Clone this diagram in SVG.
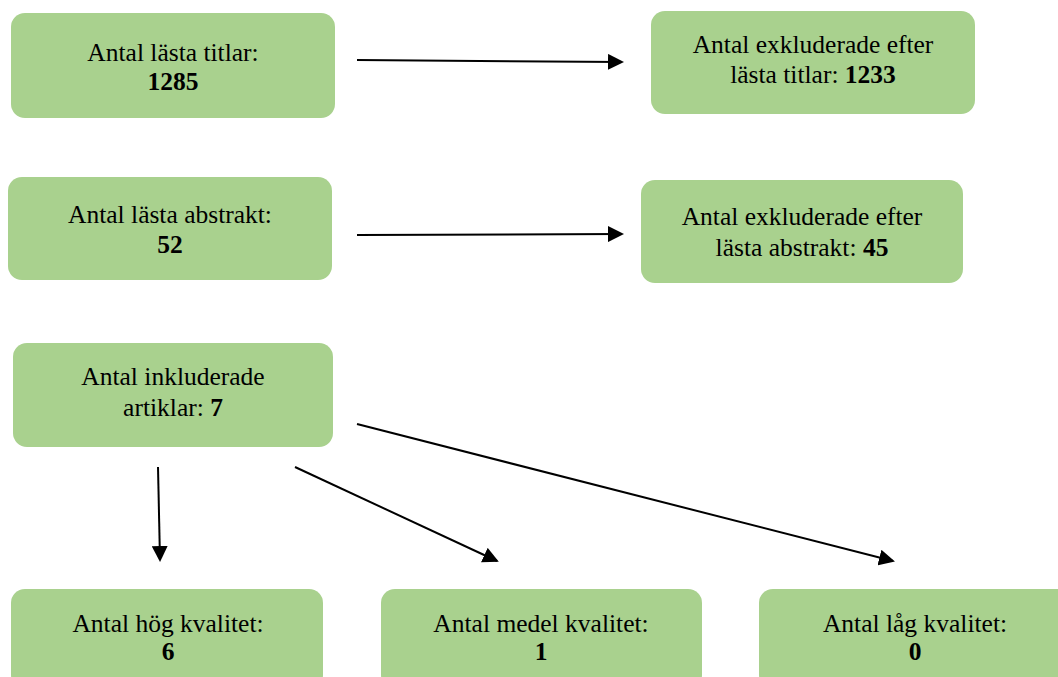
<svg xmlns="http://www.w3.org/2000/svg" width="1058" height="677" viewBox="0 0 1058 677">
<style>
.box{fill:#a9d18e}
.b{font-weight:bold}
.c{stroke:#000;stroke-width:2;fill:none;marker-end:url(#ah)}
</style>
<defs>
<marker id="ah" markerWidth="8" markerHeight="8" refX="7" refY="4" orient="auto" markerUnits="strokeWidth">
<path d="M0,0 L8,4 L0,8 Z" fill="#000"/>
</marker>
</defs>
<rect width="1058" height="677" fill="#fff"/>
<g id="connectors">
<line class="c" x1="357" y1="60" x2="622" y2="62"/>
<line class="c" x1="357" y1="235" x2="622" y2="234"/>
<line class="c" x1="158" y1="467" x2="160" y2="560"/>
<line class="c" x1="295" y1="467" x2="497" y2="561"/>
<line class="c" x1="357" y1="424" x2="893" y2="561"/>
</g>
<g font-family="Liberation Serif, DejaVu Serif, serif" font-size="25.5" text-anchor="middle" fill="#000">
<g id="n1"><rect class="box" x="11" y="13" width="324" height="105" rx="14"/>
<text x="173" y="61">Antal lästa titlar:</text><text class="b" x="173" y="90">1285</text></g>
<g id="n2"><rect class="box" x="651" y="11" width="324" height="103" rx="14"/>
<text x="813" y="53">Antal exkluderade efter</text><text x="813" y="83">lästa titlar: <tspan class="b">1233</tspan></text></g>
<g id="n3"><rect class="box" x="8" y="177" width="324" height="103" rx="14"/>
<text x="170" y="223">Antal lästa abstrakt:</text><text class="b" x="170" y="253">52</text></g>
<g id="n4"><rect class="box" x="641" y="180" width="322" height="103" rx="14"/>
<text x="802" y="225">Antal exkluderade efter</text><text x="802" y="256">lästa abstrakt: <tspan class="b">45</tspan></text></g>
<g id="n5"><rect class="box" x="13" y="343" width="320" height="104" rx="14"/>
<text x="173" y="385">Antal inkluderade</text><text x="173" y="416">artiklar: <tspan class="b">7</tspan></text></g>
<g id="n6"><rect class="box" x="11" y="589" width="312" height="100" rx="14"/>
<text x="168" y="632">Antal hög kvalitet:</text><text class="b" x="168" y="660">6</text></g>
<g id="n7"><rect class="box" x="381" y="589" width="321" height="100" rx="14"/>
<text x="541" y="632">Antal medel kvalitet:</text><text class="b" x="541" y="660">1</text></g>
<g id="n8"><rect class="box" x="759" y="589" width="312" height="100" rx="14"/>
<text x="915" y="632">Antal låg kvalitet:</text><text class="b" x="915" y="660">0</text></g>
</g>
</svg>
